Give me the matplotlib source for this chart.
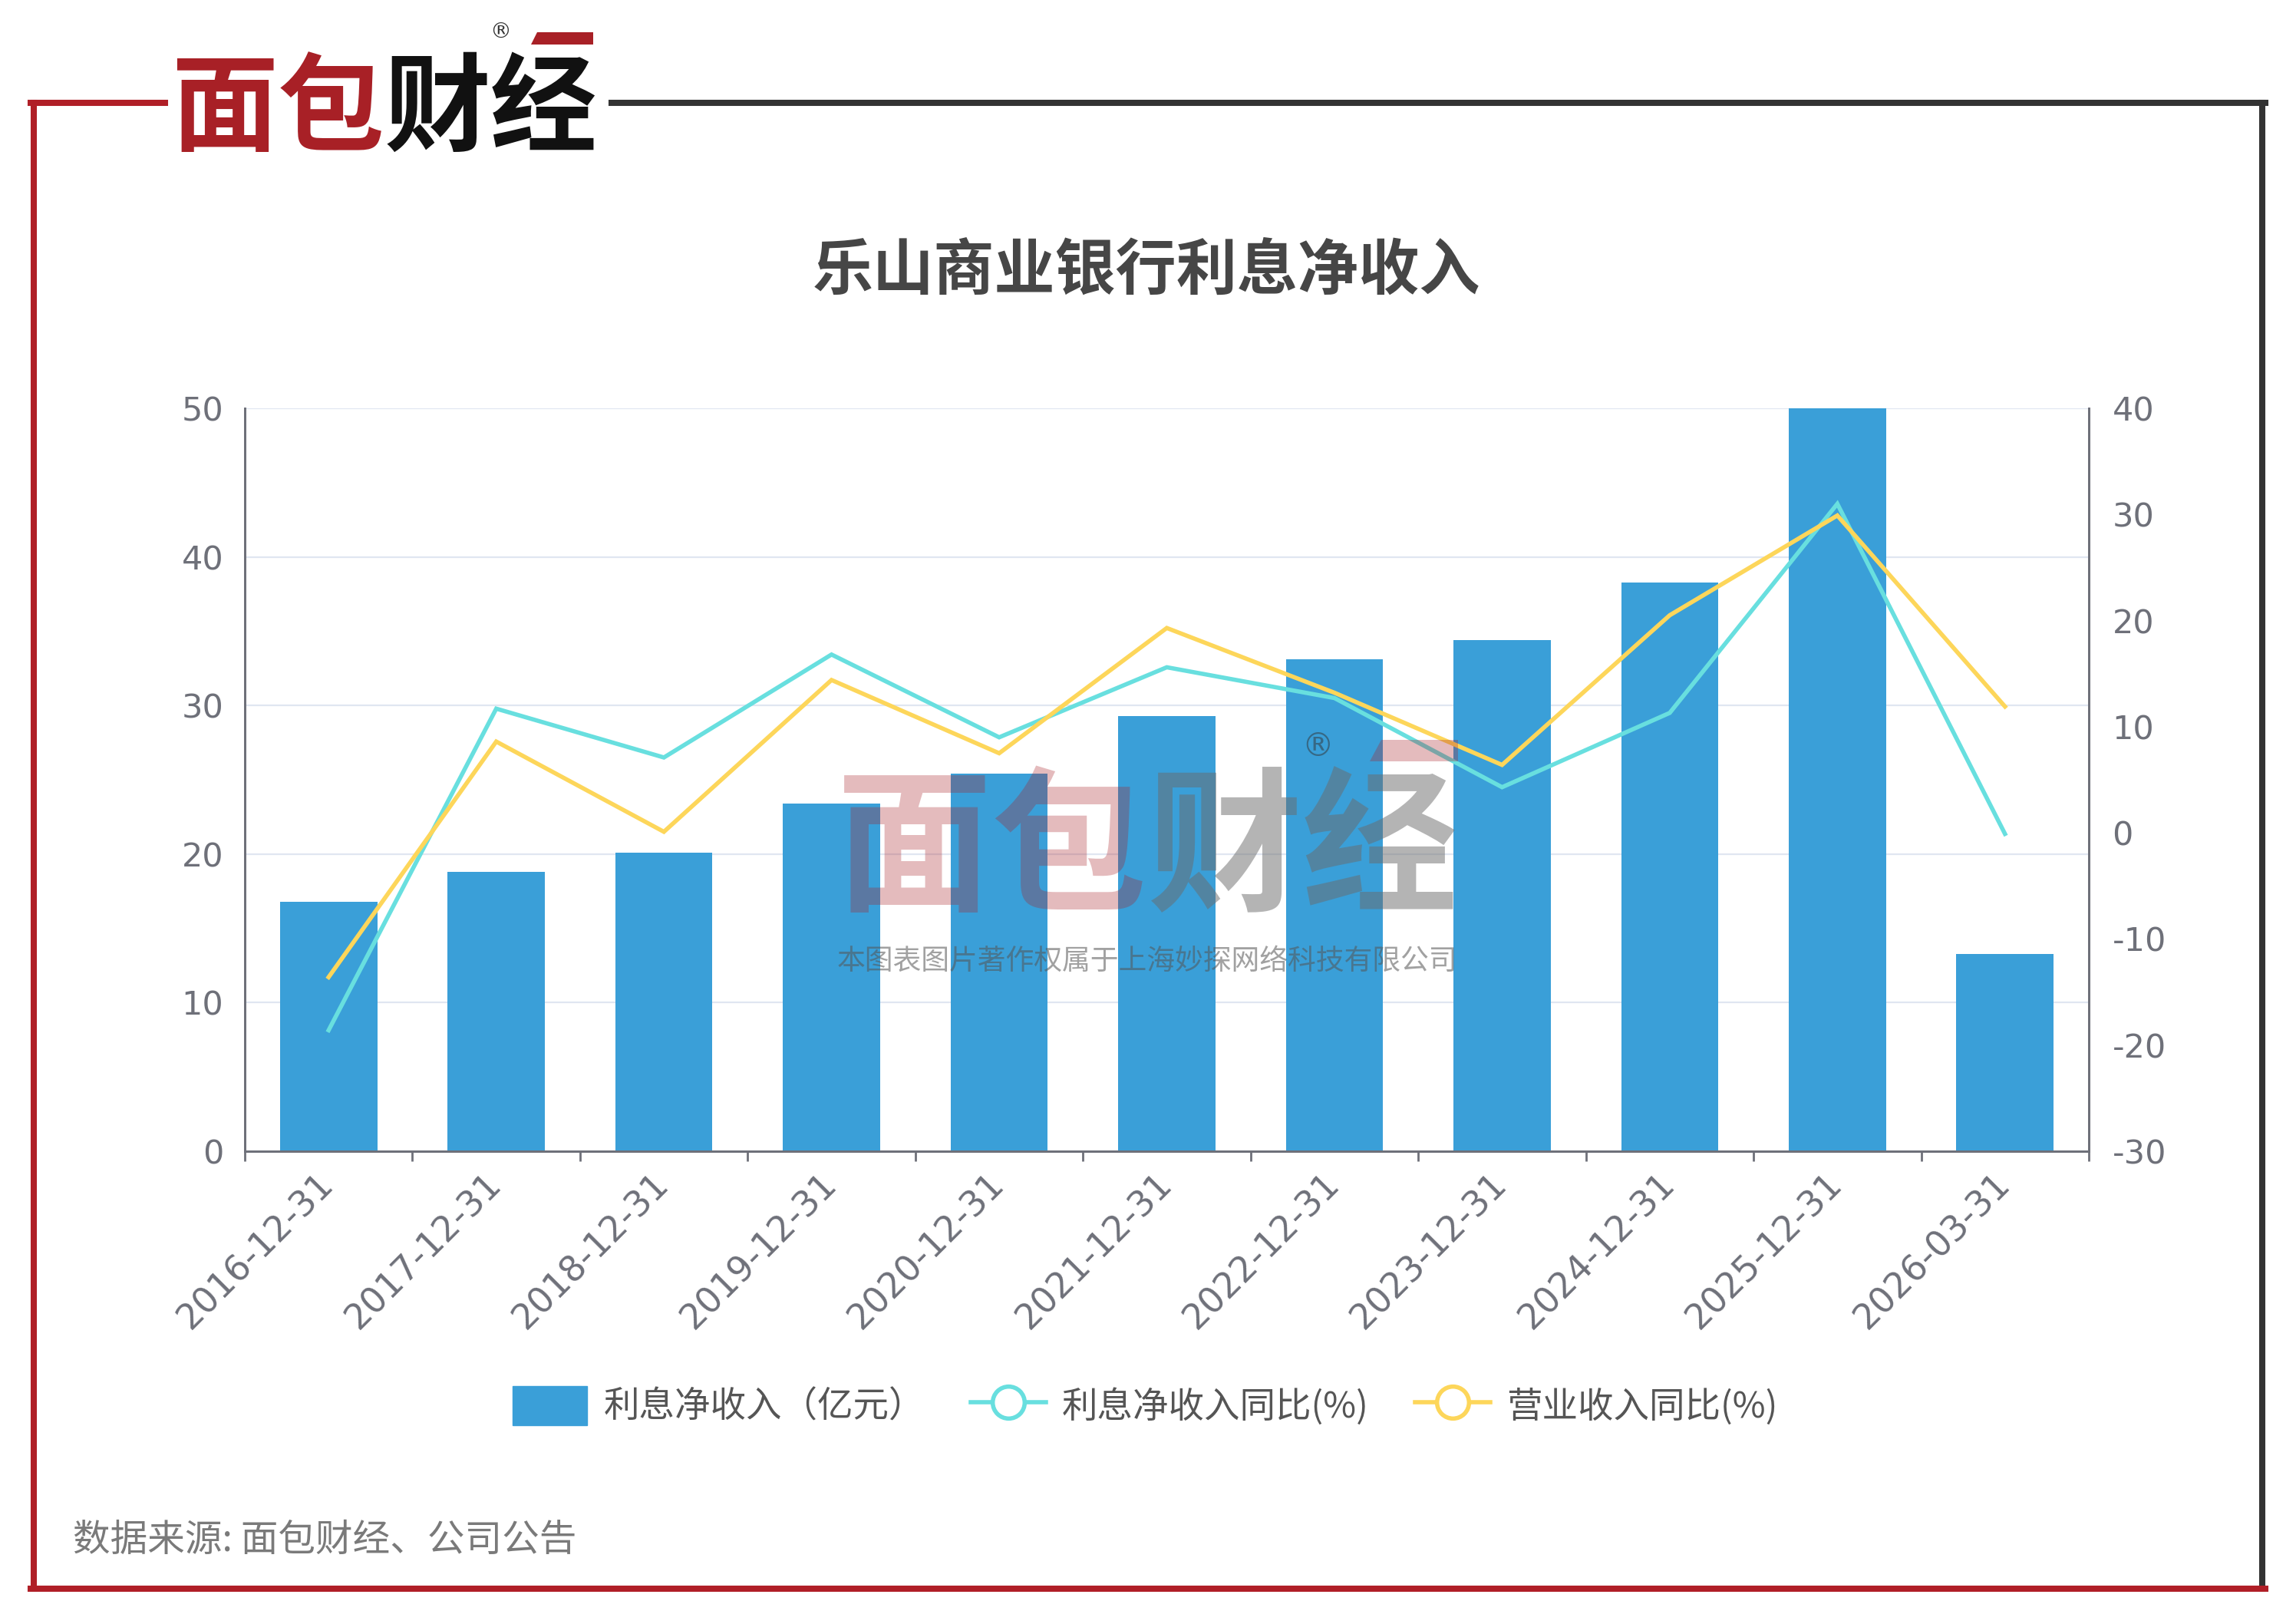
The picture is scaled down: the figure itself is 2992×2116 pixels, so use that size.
import matplotlib
matplotlib.use('Agg')
import matplotlib.pyplot as plt
from matplotlib.lines import Line2D
from matplotlib.patches import Patch, Polygon

plt.rcParams['font.family'] = ['Noto Sans CJK SC', 'DejaVu Sans']
plt.rcParams['axes.unicode_minus'] = False

# data
dates = ['2016-12-31', '2017-12-31', '2018-12-31', '2019-12-31', '2020-12-31',
         '2021-12-31', '2022-12-31', '2023-12-31', '2024-12-31', '2025-12-31',
         '2026-03-31']
net_interest = [16.8, 18.8, 20.1, 23.4, 25.4, 29.3, 33.1, 34.4, 38.3, 50.0, 13.3]
nii_yoy = [-18.6, 11.7, 7.1, 16.8, 9.0, 15.6, 12.7, 4.3, 11.3, 31.0, -0.1]
rev_yoy = [-13.6, 8.6, 0.1, 14.4, 7.5, 19.3, 13.2, 6.4, 20.5, 29.9, 11.9]

W, H = 2992, 2116
BLUE = '#3A9FD8'
CYAN = '#68DFDF'
YELLOW = '#FDD65A'
AXIS = '#6E7079'
RED = '#B01F27'


def fx(px):
    return px / W


def fy(py):
    return 1 - py / H


fig = plt.figure(figsize=(W / 100, H / 100), dpi=100)
fig.patch.set_facecolor('white')

ax = fig.add_axes([fx(319), fy(1500), fx(2722) - fx(319), fy(532) - fy(1500)])
ax2 = ax.twinx()

x = list(range(len(dates)))
ax.bar(x, net_interest, width=0.58, color=BLUE, zorder=2)
ax2.plot(x, nii_yoy, color=CYAN, lw=4, solid_joinstyle='miter', zorder=3)
ax2.plot(x, rev_yoy, color=YELLOW, lw=4, solid_joinstyle='miter', zorder=3)

ax.set_xlim(-0.5, len(dates) - 0.5)
ax.set_ylim(0, 50)
ax.set_yticks(range(0, 51, 10))
ax2.set_ylim(-30, 40)
ax2.set_yticks(range(-30, 41, 10))

ax.grid(axis='y', color='#E0E6F1', lw=1.6, zorder=0)
ax.set_axisbelow(True)

for a in (ax, ax2):
    a.spines['top'].set_visible(False)
    for s in ('left', 'right', 'bottom'):
        a.spines[s].set_color(AXIS)
        a.spines[s].set_linewidth(2)
    a.tick_params(axis='y', length=0, labelsize=31, labelcolor=AXIS)
    for lab in a.get_yticklabels():
        lab.set_fontfamily('DejaVu Sans')
ax.tick_params(axis='y', pad=20)
ax2.tick_params(axis='y', pad=22)

ax.set_xticks(x)
ax.set_xticklabels(dates, rotation=45, ha='right', va='center',
                   rotation_mode='anchor', fontsize=33, color=AXIS,
                   fontfamily='DejaVu Sans')
ax.tick_params(axis='x', length=0, pad=26)
ax.set_xticks([i - 0.5 for i in range(len(dates) + 1)], minor=True)
ax.tick_params(axis='x', which='minor', length=9, width=2, color=AXIS)

# legend
handles = [
    Patch(facecolor=BLUE, edgecolor=BLUE),
    Line2D([], [], color=CYAN, lw=4, marker='o', markersize=30,
           markerfacecolor='white', markeredgewidth=4),
    Line2D([], [], color=YELLOW, lw=4, marker='o', markersize=30,
           markerfacecolor='white', markeredgewidth=4),
]
labels = ['利息净收入（亿元）', '利息净收入同比(%)', '营业收入同比(%)']
fig.legend(handles, labels, loc='center', bbox_to_anchor=(fx(1492), fy(1832)),
           ncol=3, frameon=False, fontsize=33.5, labelcolor='#555555',
           handlelength=2.1, handleheight=1.3, handletextpad=0.45,
           columnspacing=1.3)

# title
fig.text(fx(1494), fy(353), '乐山商业银行利息净收入', ha='center', va='center',
         fontsize=57, fontweight='bold', color='#464646')

# footer
fig.text(fx(95), fy(2007), '数据来源: 面包财经、公司公告', ha='left', va='center',
         fontsize=35, color='#7A7A7A')

# frame
lw_frame = 5.8
fig.add_artist(Line2D([fx(797), fx(2952)], [fy(134), fy(134)], color='#333333', lw=lw_frame))
fig.add_artist(Line2D([fx(2948), fx(2948)], [fy(134), fy(2070)], color='#333333', lw=lw_frame))
fig.add_artist(Line2D([fx(40), fx(215)], [fy(134), fy(134)], color=RED, lw=lw_frame))
fig.add_artist(Line2D([fx(44), fx(44)], [fy(134), fy(2070)], color=RED, lw=lw_frame))
fig.add_artist(Line2D([fx(40), fx(2952)], [fy(2070), fy(2070)], color=RED, lw=lw_frame))

# logo top-left
fig.text(fx(501), fy(145), '面包', ha='right', va='center', fontsize=100,
         fontweight='heavy', color='#A82026')
fig.text(fx(501), fy(145), '财经', ha='left', va='center', fontsize=100,
         fontweight='heavy', color='#111111')
fig.text(fx(652), fy(42), '®', ha='center', va='center', fontsize=20,
         color='#333333', family='DejaVu Sans')
fig.add_artist(Polygon([[fx(700), fy(42)], [fx(773), fy(42)], [fx(773), fy(58)], [fx(692), fy(58)]],
                       closed=True, facecolor='#A82026', edgecolor='none'))

# watermark
fig.text(fx(1495), fy(1112), '面包', ha='right', va='center', fontsize=146,
         fontweight='heavy', color='#A82026', alpha=0.3, zorder=10)
fig.text(fx(1495), fy(1112), '财经', ha='left', va='center', fontsize=146,
         fontweight='heavy', color='#6B6B6B', alpha=0.5, zorder=10)
fig.text(fx(1717), fy(973), '®', ha='center', va='center', fontsize=30,
         color='#333333', alpha=0.5, zorder=10, family='DejaVu Sans')
fig.add_artist(Polygon([[fx(1800), fy(964)], [fx(1900), fy(964)], [fx(1900), fy(992)], [fx(1785), fy(992)]],
                       closed=True, facecolor='#A82026', edgecolor='none', alpha=0.3, zorder=10))
fig.text(fx(1495), fy(1252), '本图表图片著作权属于上海妙探网络科技有限公司', ha='center',
         va='center', fontsize=26.5, color='#555555', alpha=0.55, zorder=10)

fig.savefig('out.png', dpi=100)
